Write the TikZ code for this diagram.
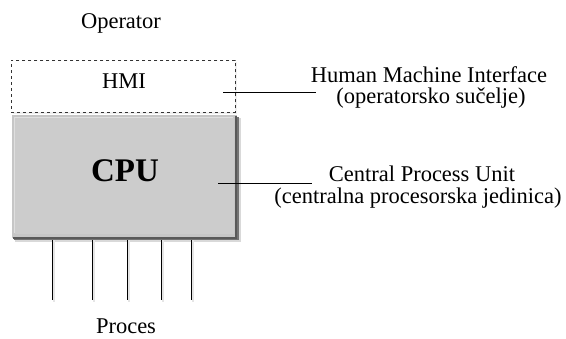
\documentclass[tikz,border=0pt]{standalone}
\usepackage{fontspec}
\setmainfont{Liberation Serif}
\begin{document}
\begin{tikzpicture}[x=1pt,y=-1pt,
  lbl/.style={font=\fontsize{22.5}{26}\selectfont, inner sep=0pt, align=center},
  leader/.style={draw=black, line width=0.8pt},
  pin/.style={draw=black, line width=1pt}]
\useasboundingbox (0,0) rectangle (566,338);
% HMI dashed box
\fill[black!6] (13,62) rectangle (237,114);
\node[draw=black!80, dashed, line width=0.8pt, fill=white, minimum width=224pt, minimum height=52pt, inner sep=0pt, anchor=north west] (hmi) at (11,60) {};
\node[lbl] (hmitxt) at (124,81) {HMI};
% CPU box
\fill[black!15] (15,118) rectangle (241,242);
\fill[black!55] (14,117) rectangle (239,240);
\fill[gray!45] (12,115) rectangle (237,238);
\fill[gray!25] (14,117) rectangle (233,233);
\node[draw=none, minimum width=219pt, minimum height=116pt, inner sep=0pt, anchor=north west, fill=black!20] (cpu) at (15,118) {};
\draw[black!65, line width=2pt] (236,116) -- (236,238) -- (13,238);
\node[font=\fontsize{33}{36}\selectfont\bfseries, inner sep=0pt] (cputxt) at (125,171) {CPU};
% Operator / Proces
\node[lbl] (op) at (121,23) {Operator};
\node[lbl] (proc) at (126,326) {Proces};
% pins
\foreach \x/\n in {52/a,92/b,127/c,161/d,191/e}{
  \coordinate (t\n) at (\x,240);
  \coordinate (b\n) at (\x,300);
  \draw[black!10, line width=2pt] ([xshift=2pt]t\n) -- ([xshift=2pt,yshift=-2pt]b\n);
  \draw[pin] (t\n) -- (b\n);
}
% leaders
\coordinate (h1) at (223,92);
\coordinate (h2) at (316,92);
\coordinate (c1) at (218,183);
\coordinate (c2) at (312,183);
\draw[leader] (h1) -- (h2);
\draw[leader] (c1) -- (c2);
\node[lbl, anchor=base] (hmiA) at (429,82) {Human Machine Interface};
\node[lbl, anchor=base] (hmiB) at (431,103) {(operatorsko sučelje)};
\node[lbl, anchor=base] (cpuA) at (422,181) {Central Process Unit};
\node[lbl, anchor=base] (cpuB) at (418,203) {(centralna procesorska jedinica)};
\end{tikzpicture}
\end{document}
